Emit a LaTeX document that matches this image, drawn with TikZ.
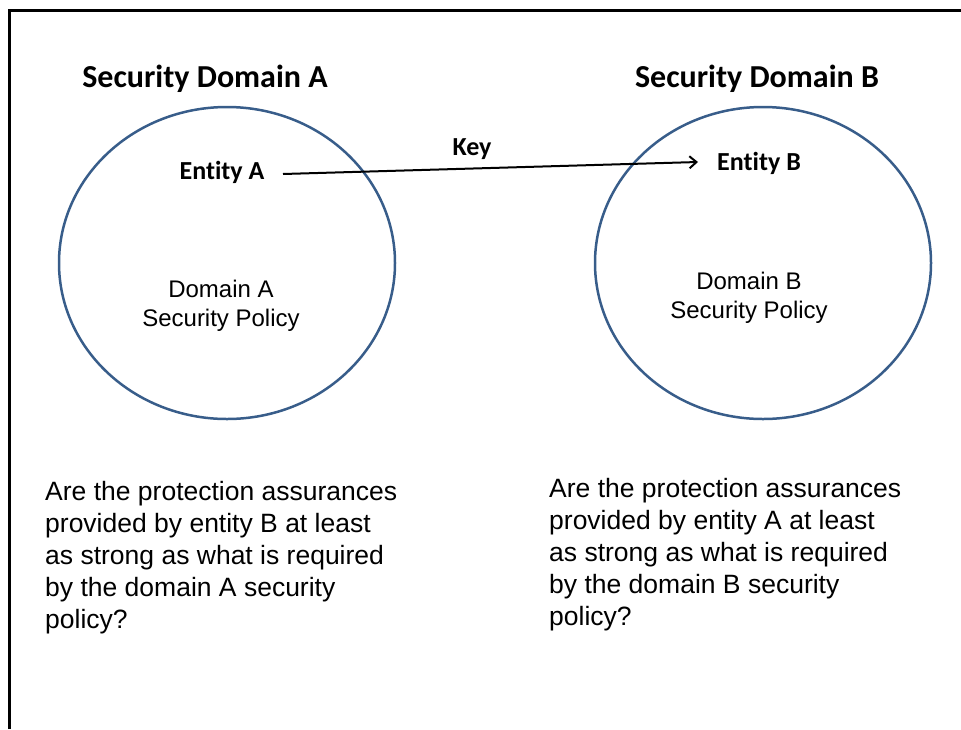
\documentclass[tikz,border=0pt]{standalone}
\usepackage{fontspec}
\setmainfont{Liberation Sans}
\newfontfamily\calfont[Ligatures=NoCommon]{Carlito}
\usetikzlibrary{arrows.meta}
\definecolor{ringblue}{RGB}{56,93,138}
\tikzset{
  title/.style={font=\calfont\bfseries\fontsize{32}{38}\selectfont, inner sep=0pt, anchor=base},
  entity/.style={font=\calfont\bfseries\fontsize{26}{31}\selectfont, inner sep=0pt, anchor=base},
  policy/.style={font=\fontsize{24}{29}\selectfont, inner sep=0pt, align=center, anchor=base},
  question/.style={font=\fontsize{26.5}{32}\selectfont, inner sep=0pt, align=left, anchor=base west},
  ring/.style={draw=ringblue, line width=2.5pt},
  keyarrow/.style={line width=2pt, -{Straight Barb[length=7pt,width=12pt,line width=2pt]}}
}
\begin{document}
\begin{tikzpicture}[x=1pt,y=-1pt]
\useasboundingbox (0,0) rectangle (961,729);
% frame (top and left edges)
\draw[line width=3pt] (9,729) -- (9,10) -- (961,10);
% domains
\draw[ring] (227,263) ellipse [x radius=168, y radius=156];
\draw[ring] (763,263) ellipse [x radius=168, y radius=156];
% titles
\node[title] (tA) at (205,87) {Security Domain A};
\node[title] (tB) at (757,87) {Security Domain B};
% entities
\node[entity] (eA) at (222,179) {Entity A};
\node[entity] (eB) at (759,170) {Entity B};
\node[entity] (key) at (472,155) {Key};
\coordinate (aS) at (283,174);
\coordinate (aE) at (698,162);
\draw[keyarrow] (aS) -- (aE);
% policies (base anchor = last line)
\node[policy] (pA) at (221,326) {Domain A\\Security Policy};
\node[policy] (pB) at (749,318) {Domain B\\Security Policy};
% questions (base anchor = last line)
\node[question] (qA) at (45,628) {Are the protection assurances\\provided by entity B at least\\as strong as what is required\\by the domain A security\\policy?};
\node[question] (qB) at (549,625) {Are the protection assurances\\provided by entity A at least\\as strong as what is required\\by the domain B security\\policy?};
\end{tikzpicture}
\end{document}
